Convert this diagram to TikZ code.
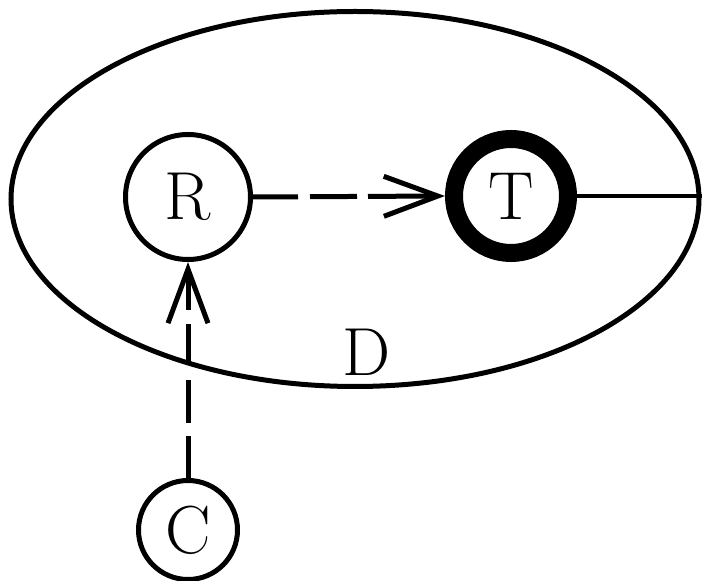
\documentclass[tikz,border=0pt]{standalone}
\usetikzlibrary{arrows.meta,shapes.geometric}
\begin{document}
\begin{tikzpicture}[x=1pt,y=1pt,
  lbl/.style={font=\fontsize{68}{68}\selectfont},
  vertex/.style={circle,draw,line width=5pt,inner sep=0pt,lbl},
  barb/.style={-{Straight Barb[length=54pt,width=40pt,line width=5pt]}}]
\useasboundingbox (0,0) rectangle (710,581);
% domain
\node[ellipse,draw,line width=5pt,inner sep=0pt,
      minimum width=688pt,minimum height=375pt] (D) at (355,382) {};
\node[lbl] (Dl) at (367,229) {D};
% vertices
\node[vertex,minimum size=125pt] (R) at (188,384) {R};
\node[vertex,minimum size=114pt,line width=18pt] (T) at (511,385) {T};
\node[vertex,minimum size=99pt] (C) at (188,51) {C};
% connectors
\draw[barb,line width=5pt,dash pattern=on 45pt off 12pt on 47pt off 11pt on 200pt]
  (R.east) -- (T.west);
\draw[barb,line width=5pt,dash pattern=on 42pt off 13pt on 43pt off 17pt on 39pt off 14pt on 200pt]
  (C.north) -- (R.south);
\draw[line width=4pt] (T.east) -- (T.east -| D.east);
\end{tikzpicture}
\end{document}
